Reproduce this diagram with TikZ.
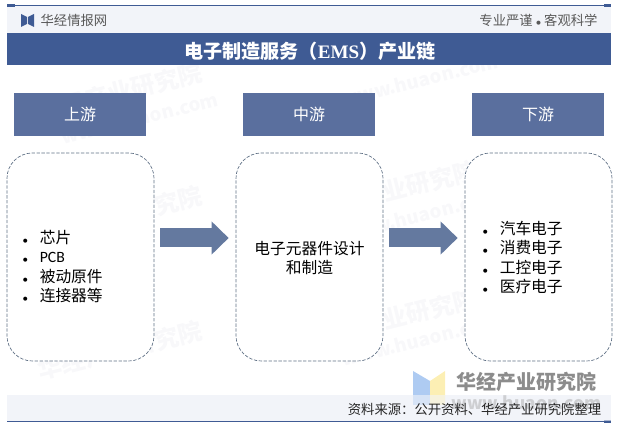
\documentclass[tikz,border=0pt]{standalone}
\usepackage{fontspec}
\setmainfont{Noto Sans CJK SC}
\newfontfamily\latinserif{Liberation Serif}
\usetikzlibrary{arrows.meta}
\definecolor{bandblue}{HTML}{3F5B94}
\definecolor{headblue}{HTML}{5A6F9E}
\definecolor{arrowblue}{HTML}{64799F}
\definecolor{stripgrey}{HTML}{F2F4F9}
\definecolor{markgrey}{HTML}{F8F8FA}
\definecolor{dashgrey}{HTML}{5F7085}
\definecolor{logoblue}{HTML}{AECBF2}
\definecolor{logoyellow}{HTML}{FCEFB4}
\tikzset{
  headbox/.style={fill=headblue,text=white,minimum width=99pt,minimum height=32.25pt,font=\fontsize{12}{12}\selectfont},
  chainbox/.style={draw=dashgrey,fill=white,dash pattern=on 2.5pt off 1.2pt,line width=0.5pt,rounded corners=19pt,minimum width=110.25pt,minimum height=156pt},
  listtext/.style={font=\fontsize{11.8}{14.6}\selectfont,align=left,anchor=west},
  flowline/.style={draw=arrowblue,line width=14.25pt,-{Triangle[length=12.75pt,width=24pt]},shorten <=4.5pt,shorten >=5.25pt},
  markword/.style={text=markgrey,font=\fontsize{18}{18}\selectfont\bfseries,rotate=14},
  markweb/.style={text=markgrey,font=\fontsize{14}{14}\selectfont\bfseries,rotate=14},
}
\newcommand{\bul}{{\scriptsize$\bullet$}}
\begin{document}
\begin{tikzpicture}[x=0.75pt,y=-0.75pt]
  \useasboundingbox (0,0) rectangle (618,427);
  % watermarks
  \node[markword] (mark1) at (120,92) {华经产业研究院};
  \node[markweb] (web1) at (140,118) {www.huaon.com};
  \node[markword] (mark2) at (120,215) {华经产业研究院};
  \node[markword] (mark3) at (395,190) {华经产业研究院};
  \node[markweb] (web3) at (420,215) {www.huaon.com};
  \node[markweb] (web2) at (420,80) {www.huaon.com};
  \node[markword] (mark4) at (120,350) {华经产业研究院};
  \node[markword] (mark5) at (395,318) {华经产业研究院};
  \node[markweb] (web5) at (420,340) {www.huaon.com};
  % header and footer
  \fill[stripgrey] (7,6) rectangle (611,33);
  \fill[stripgrey] (7,395) rectangle (611,421);
  \draw[bandblue,line width=0.75pt] (7,5.5) -- (611,5.5);
  \draw[bandblue,line width=0.75pt] (7,421.5) -- (611,421.5);
  \fill[bandblue] (7,4) rectangle (15,7);
  \fill[bandblue] (604,4) rectangle (611,7);
  \fill[bandblue] (604,420) rectangle (611,423);
  \fill[bandblue] (21,14) -- (27,17) -- (27,24) -- (21,27) -- cycle;
  \fill[bandblue] (34,14) -- (28,17) -- (28,24) -- (34,27) -- cycle;
  \node[text=black!65,font=\fontsize{10}{10}\selectfont] (site) at (74,20) {华经情报网};
  \node[text=black!65,font=\fontsize{10}{10}\selectfont] (motto) at (538.5,20) {专业严谨 \bul{} 客观科学};
  \fill[bandblue] (7,33) rectangle (611,65);
  \node[text=white,font=\fontsize{14.3}{14.3}\selectfont\bfseries] (title) at (310,51.5) {电子制造服务（{\latinserif EMS}）产业链};
  % logo
  \fill[logoblue] (413,371) -- (430,381) -- (430,405) -- (413,405) -- cycle;
  \fill[logoyellow] (445,371) -- (430,381) -- (430,405) -- (445,405) -- cycle;
  \node[text=black!45,font=\fontsize{15}{15}\selectfont\bfseries] (brand) at (526.5,382) {华经产业研究院};
  \node[text=black!40,font=\fontsize{13}{13}\selectfont\bfseries] (brandweb) at (526.5,403) {www.huaon.com};
  \fill[stripgrey,opacity=0.6] (7,395) rectangle (611,421);
  \node[text=black!85,font=\fontsize{10}{10}\selectfont] (source) at (474.5,409) {资料来源：公开资料、华经产业研究院整理};
  % chain
  \node[headbox] (up) at (80,114.5) {上游};
  \node[headbox] (mid) at (309,114.5) {中游};
  \node[headbox] (down) at (538,114.5) {下游};
  \node[chainbox] (upbox) at (80.5,257) {};
  \node[chainbox] (midbox) at (309.5,257) {};
  \node[chainbox] (downbox) at (538.5,257) {};
  \node[listtext] (uplist) at (18,268.5) {\begin{tabular}{@{}l@{\hspace{8.7pt}}l@{}}
    \bul & 芯片\\
    \bul & {\fontspec{Carlito}PCB}\\
    \bul & 被动原件\\
    \bul & 连接器等
  \end{tabular}};
  \node[font=\fontsize{11.8}{14.6}\selectfont,align=center] (midtext) at (309.5,258) {电子元器件设计\\和制造};
  \node[listtext] (downlist) at (478,259.5) {\begin{tabular}{@{}l@{\hspace{8.7pt}}l@{}}
    \bul & 汽车电子\\
    \bul & 消费电子\\
    \bul & 工控电子\\
    \bul & 医疗电子
  \end{tabular}};
  \draw[flowline] ([yshift=14.25pt]upbox.east) -- ([yshift=14.25pt]midbox.west);
  \draw[flowline] ([yshift=14.25pt]midbox.east) -- ([yshift=14.25pt]downbox.west);
\end{tikzpicture}
\end{document}
